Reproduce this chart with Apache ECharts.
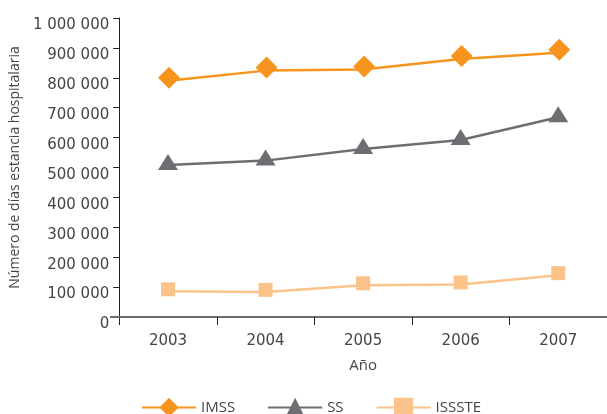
<!DOCTYPE html>
<html><head><meta charset="utf-8">
<script src="https://cdn.jsdelivr.net/npm/echarts@6/dist/echarts.min.js"></script>
<style>html,body{margin:0;padding:0;background:#fff}#c{width:607px;height:414px}</style>
</head><body><div id="c"></div>
<script>
var years = ['2003','2004','2005','2006','2007'];
var imss = [790000, 824000, 828000, 863000, 884000];
var ss = [508000, 523000, 562000, 592000, 668000];
var issste = [86000, 84000, 106000, 109000, 140000];
var yTicks = [0,100000,200000,300000,400000,500000,600000,700000,800000,900000,1000000];

var font = '"Open Sans", sans-serif';
var numFont = '"DejaVu Sans", sans-serif';
var txt = '#454547';
function fmt(v){ return String(v).replace(/\B(?=(\d{3})+(?!\d))/g,' '); }

var chart = echarts.init(document.getElementById('c'), null, {renderer:'canvas'});
chart.setOption({
  animation:false,
  grid:{left:119, top:18, width:497, height:299},
  graphic:[{type:'line', shape:{x1:110, y1:317, x2:120, y2:317}, style:{stroke:'#6d6e71', lineWidth:2}, z:10}],
  xAxis:{type:'category', data:years, boundaryGap:true,
    name:'Año', nameLocation:'middle', nameGap:41,
    nameTextStyle:{fontFamily:font, fontSize:15, color:txt},
    axisLine:{lineStyle:{color:'#6d6e71', width:2}},
    axisTick:{show:true, interval:0, length:8, lineStyle:{color:'#231f20', width:1}},
    axisLabel:{fontFamily:numFont, fontSize:15, color:txt, margin:17, interval:0}
  },
  yAxis:{type:'value', min:yTicks[0], max:yTicks[yTicks.length-1], interval:100000,
    name:'Número de días estancia hospitalaria', nameLocation:'middle', nameGap:93,
    nameTextStyle:{fontFamily:font, fontSize:14, color:txt},
    axisLine:{show:true, lineStyle:{color:'#231f20', width:1}},
    axisTick:{show:true, length:6, lineStyle:{color:'#231f20'}},
    splitLine:{show:false},
    axisLabel:{fontFamily:numFont, fontSize:15, color:txt, margin:10, verticalAlign:'top', lineHeight:15, formatter:fmt}
  },
  legend:{bottom:-8, left:136, itemWidth:54, itemHeight:24, itemGap:32,
    textStyle:{fontFamily:font, fontSize:15, color:txt},
    data:['IMSS','SS','ISSSTE']},
  series:[
    {name:'IMSS', type:'line', data:imss, symbol:'diamond', symbolSize:[22,22], symbolOffset:[1,-3],
      lineStyle:{color:'#f7941d', width:2.5}, itemStyle:{color:'#f7941d'}},
    {name:'SS', type:'line', data:ss, symbol:'triangle', symbolSize:[20,16], symbolOffset:[0,-3],
      lineStyle:{color:'#6d6e71', width:2.5}, itemStyle:{color:'#6d6e71'}},
    {name:'ISSSTE', type:'line', data:issste, symbol:'rect', symbolSize:[14,14], symbolOffset:[0,-2],
      lineStyle:{color:'#fbc38a', width:2.5}, itemStyle:{color:'#fbc38a'}}
  ]
});
</script></body></html>
